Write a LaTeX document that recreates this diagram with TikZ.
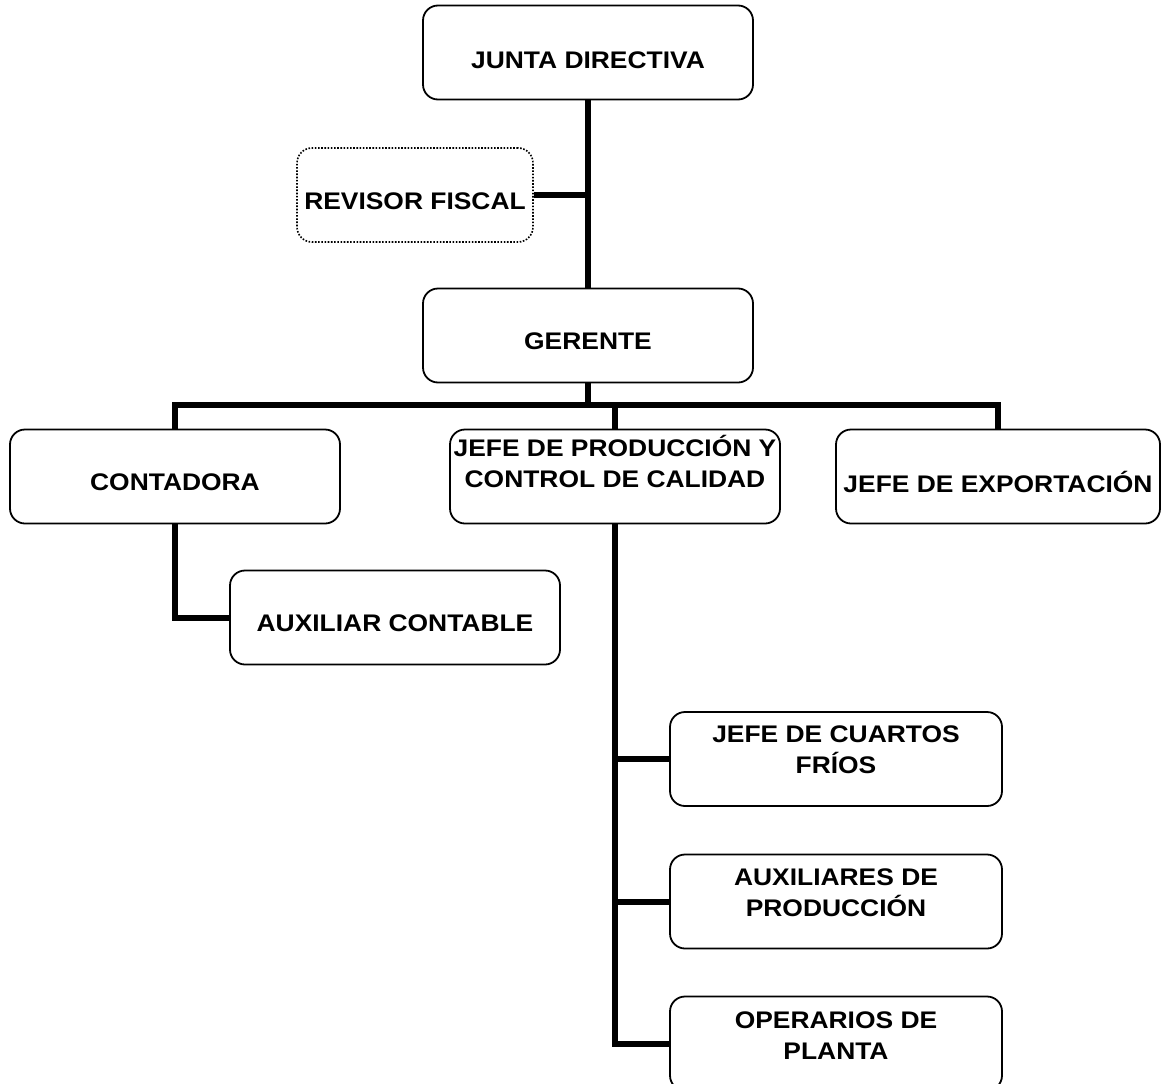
\documentclass[tikz,border=0pt]{standalone}
\usepackage{fontspec}
\setmainfont{Liberation Sans}[FakeStretch=1.1]
\begin{document}
\begin{tikzpicture}[x=1pt,y=-1pt,
  box/.style={draw, line width=1.8pt, rounded corners=15pt, inner sep=0pt, minimum height=94pt},
  dotbox/.style={box, line width=1.6pt, dash pattern=on 1.6pt off 1.6pt},
  conn/.style={line width=6pt, line join=miter},
  lbl/.style={font=\fontsize{24}{31}\selectfont\bfseries, align=center, inner sep=0pt, anchor=base}]
\useasboundingbox (0,0) rectangle (1167,1084);
\clip (0,0) rectangle (1167,1084);
% boxes
\node[box, minimum width=330pt] (jd) at (588,52.5) {};
\node[dotbox, minimum width=236pt] (rf) at (415,195) {};
\node[box, minimum width=330pt] (ge) at (588,335.5) {};
\node[box, minimum width=330pt] (co) at (175,476.5) {};
\node[box, minimum width=330pt] (jp) at (615,476.5) {};
\node[box, minimum width=324pt] (je) at (998,476.5) {};
\node[box, minimum width=330pt] (ac) at (395,617.5) {};
\node[box, minimum width=332pt] (cf) at (836,759) {};
\node[box, minimum width=332pt] (ap) at (836,901.5) {};
\node[box, minimum width=332pt] (op) at (836,1043.5) {};
% labels (base = baseline of last line)
\node[lbl] (jdt) at (588,68) {JUNTA DIRECTIVA};
\node[lbl] (rft) at (415,209) {REVISOR FISCAL};
\node[lbl] (get) at (588,349) {GERENTE};
\node[lbl] (cot) at (175,490) {CONTADORA};
\node[lbl] (jpt) at (615,487) {JEFE DE PRODUCCIÓN Y\\CONTROL DE CALIDAD};
\node[lbl] (jet) at (998,492) {JEFE DE EXPORTACIÓN};
\node[lbl] (act) at (395,631) {AUXILIAR CONTABLE};
\node[lbl] (cft) at (836,773) {JEFE DE CUARTOS\\FRÍOS};
\node[lbl] (apt) at (836,916) {AUXILIARES DE\\PRODUCCIÓN};
\node[lbl] (opt) at (836,1059) {OPERARIOS DE\\PLANTA};
% connectors
\coordinate (bus) at (588,405);
\draw[conn] (jd.south) -- (ge.north);
\draw[conn] (rf.east) -- (rf.east -| jd.south);
\draw[conn] (ge.south) -- (bus);
\draw[conn] (co.north) -- (co.north |- bus) -- (je.north |- bus) -- (je.north);
\draw[conn] (jp.north) -- (jp.north |- bus);
\draw[conn] (co.south) |- (ac.west);
\draw[conn] (jp.south) |- (op.west);
\draw[conn] (cf.west -| jp.south) -- (cf.west);
\draw[conn] (ap.west -| jp.south) -- (ap.west);
\end{tikzpicture}
\end{document}
